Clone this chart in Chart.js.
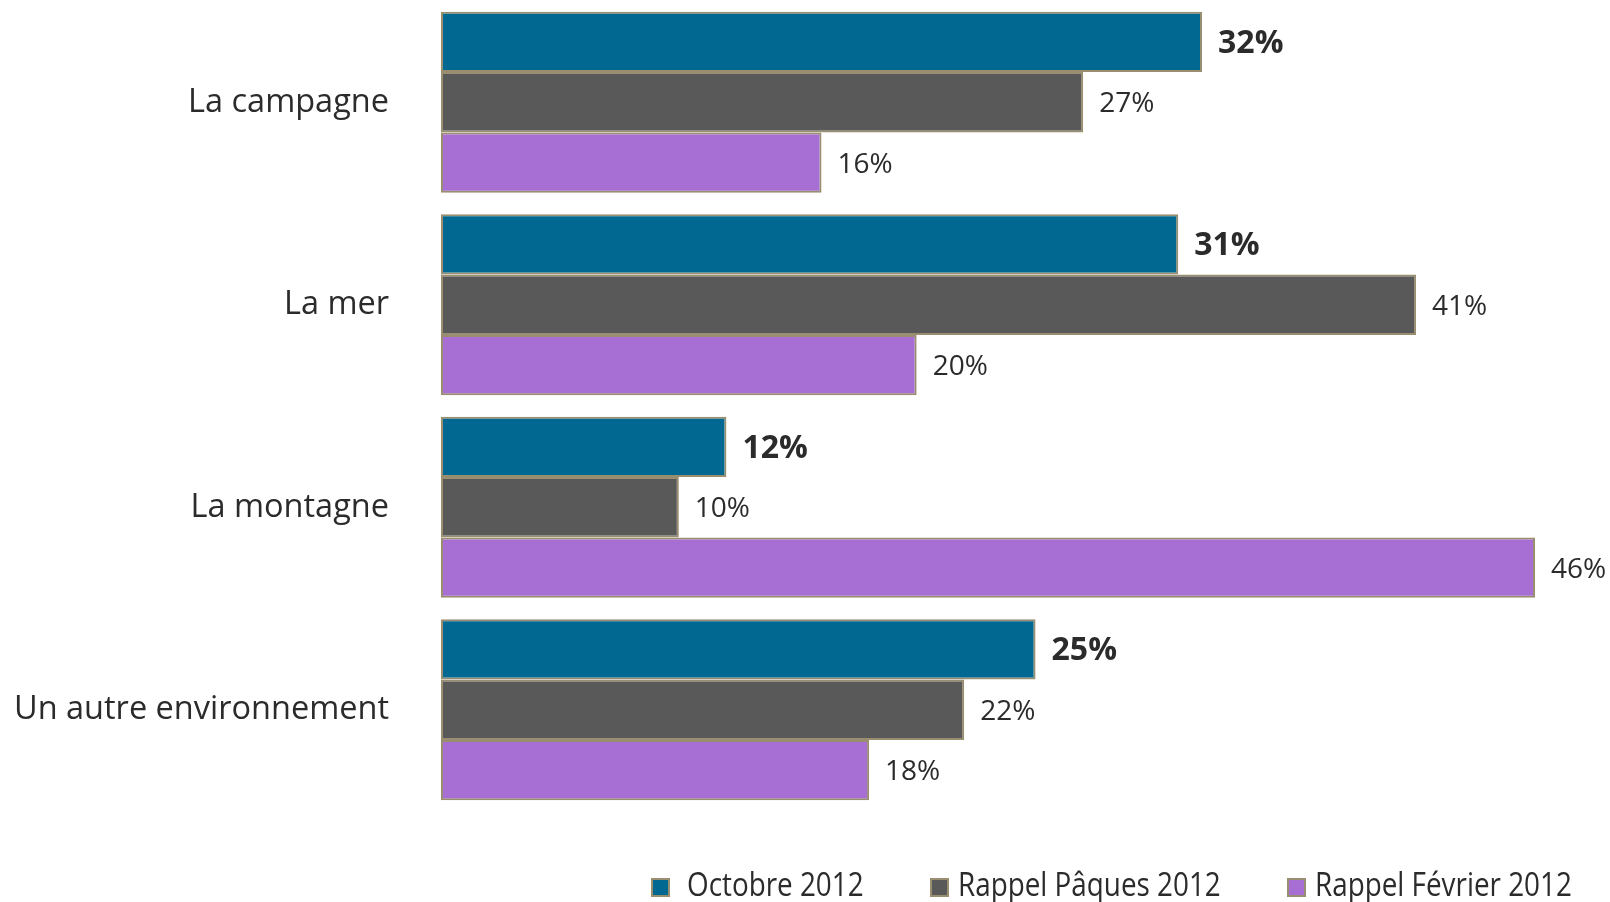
<!DOCTYPE html>
<html>
<head>
<meta charset="utf-8">
<script src="https://cdn.jsdelivr.net/npm/chart.js@4/dist/chart.umd.min.js"></script>
<style>
  html, body { margin: 0; padding: 0; background: #fff; }
  #wrap { width: 1610px; height: 902px; position: relative; }
</style>
</head>
<body>
<div id="wrap"><canvas id="chart"></canvas></div>
<script>
const categories = ['La campagne', 'La mer', 'La montagne', 'Un autre environnement'];
const seriesNames = ['Octobre 2012', 'Rappel Pâques 2012', 'Rappel Février 2012'];
const octobre2012 = [32, 31, 12, 25];
const paques2012 = [27, 41, 10, 22];
const fevrier2012 = [16, 20, 46, 18];
const seriesColors = ['#006891', '#595959', '#a76fd3'];

const textColor = '#2b2b2b';
const edgeColor = '#9a8e70';

// value labels to the right of each bar, first series bold and bigger
const barLabels = {
  id: 'barLabels',
  afterDatasetsDraw(chart) {
    const ctx = chart.ctx;
    ctx.save();
    ctx.fillStyle = textColor;
    ctx.textBaseline = 'middle';
    ctx.textAlign = 'left';
    chart.data.datasets.forEach(function (ds, i) {
      const meta = chart.getDatasetMeta(i);
      ctx.font = i === 0 ? 'bold 32px "Open Sans"' : '28px "Open Sans"';
      meta.data.forEach(function (bar, j) {
        ctx.fillText(ds.data[j] + '%', bar.x + 16, bar.y + 2);
      });
    });
    ctx.restore();
  }
};

// legend row under the plot, text slightly condensed like the original
const legendRow = {
  id: 'legendRow',
  afterDraw(chart) {
    const ctx = chart.ctx;
    const xs = [652, 931, 1288];
    const y = 887;
    ctx.save();
    ctx.textBaseline = 'middle';
    ctx.font = '32px "Open Sans"';
    chart.data.datasets.forEach(function (ds, i) {
      ctx.fillStyle = ds.backgroundColor;
      ctx.strokeStyle = edgeColor;
      ctx.lineWidth = 2;
      ctx.fillRect(xs[i], y - 8, 17, 17);
      ctx.strokeRect(xs[i], y - 8, 17, 17);
      ctx.save();
      ctx.translate(xs[i] + (i === 0 ? 35 : 27), y);
      ctx.scale(0.87, 1);
      ctx.fillStyle = textColor;
      ctx.fillText(ds.label, 0, 0);
      ctx.restore();
    });
    ctx.restore();
  }
};

const ctx = document.getElementById('chart');

new Chart(ctx, {
  type: 'bar',
  data: {
    labels: categories,
    datasets: [
      { label: seriesNames[0], data: octobre2012, backgroundColor: seriesColors[0] },
      { label: seriesNames[1], data: paques2012, backgroundColor: seriesColors[1] },
      { label: seriesNames[2], data: fevrier2012, backgroundColor: seriesColors[2] }
    ]
  },
  options: {
    indexAxis: 'y',
    responsive: true,
    maintainAspectRatio: false,
    animation: false,
    datasets: {
      bar: {
        categoryPercentage: 0.895,
        barPercentage: 1.0,
        borderWidth: 2,
        borderColor: edgeColor,
        borderSkipped: false
      }
    },
    layout: {
      padding: { top: 1, right: 75, bottom: 91, left: 0 }
    },
    plugins: {
      legend: { display: false },
      tooltip: { enabled: false }
    },
    scales: {
      x: {
        display: false,
        min: 0,
        max: 46
      },
      y: {
        afterFit: function (scale) {
          scale.width = 441;
          // tick padding would otherwise push the plot down
          scale.paddingTop = 0;
          scale.paddingBottom = 0;
        },
        grid: { display: false, drawTicks: false },
        border: { display: false },
        ticks: {
          padding: 52,
          color: textColor,
          font: { family: 'Open Sans', size: 32.5 }
        }
      }
    }
  },
  plugins: [barLabels, legendRow]
});
</script>
</body>
</html>
